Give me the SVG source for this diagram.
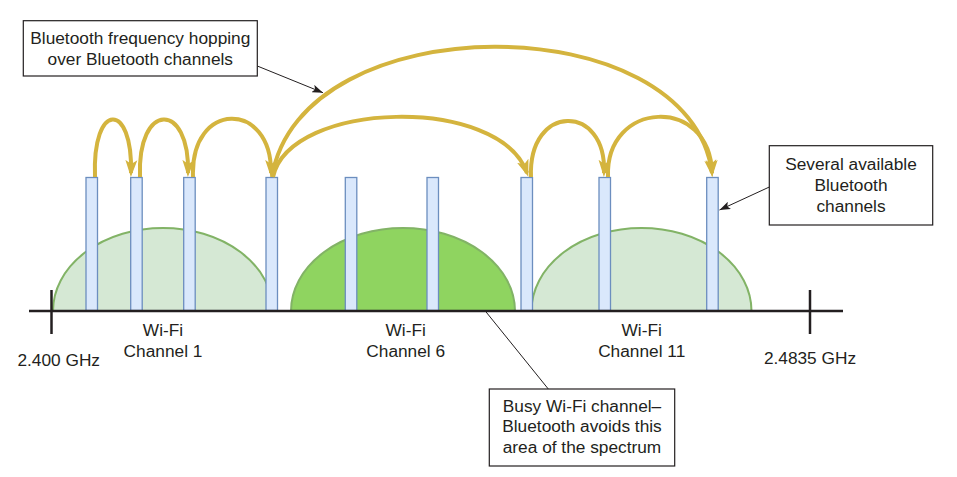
<svg xmlns="http://www.w3.org/2000/svg" width="957" height="477" viewBox="0 0 957 477">
<style>
text{font-family:"Liberation Sans",Arial,sans-serif;font-size:17.3px;fill:#231f20;text-anchor:middle}
.lite{fill:#d5e8d4;stroke:#82b366;stroke-width:2}
.busy{fill:#8fd460;stroke:#82b366;stroke-width:2}
.bar{fill:#dae8fc;stroke:#6c8ebf;stroke-width:1.3}
.hop{fill:none;stroke:#d4b43e;stroke-width:4;marker-end:url(#gold)}
.axis{stroke:#231f20;stroke-width:2.5;fill:none}
.box{fill:#fff;stroke:#231f20;stroke-width:1.2}
.lead{stroke:#231f20;stroke-width:1;fill:none}
</style>
<defs>
<marker id="gold" markerUnits="userSpaceOnUse" markerWidth="18" markerHeight="14" viewBox="0 0 18 14" refX="13" refY="7" orient="auto">
<path d="M0,1 L17,7 L0,13 L4,7 Z" fill="#d4b43e"/>
</marker>
<marker id="blk" markerUnits="userSpaceOnUse" markerWidth="12" markerHeight="8" viewBox="0 0 12 8" refX="11" refY="4" orient="auto">
<path d="M0,0 L11,4 L0,8 L2.5,4 Z" fill="#231f20"/>
</marker>
</defs>
<g id="wifi-ch1"><path class="lite" d="M53,311 A110,83 0 0 1 273,311 Z"/></g>
<g id="wifi-ch6"><path class="busy" d="M291,311 A112,83 0 0 1 515,311 Z"/></g>
<g id="wifi-ch11"><path class="lite" d="M531.5,311 A110,83 0 0 1 751.5,311 Z"/></g>
<g id="bt-channels">
<rect class="bar" x="86" y="177.5" width="11.5" height="133"/>
<rect class="bar" x="130.7" y="177.5" width="11.5" height="133"/>
<rect class="bar" x="183.7" y="177.5" width="11.5" height="133"/>
<rect class="bar" x="266" y="177.5" width="11.5" height="133"/>
<rect class="bar" x="345.3" y="177.5" width="11.5" height="133"/>
<rect class="bar" x="427" y="177.5" width="11.5" height="133"/>
<rect class="bar" x="521" y="177.5" width="11.5" height="133"/>
<rect class="bar" x="599" y="177.5" width="11.5" height="133"/>
<rect class="bar" x="706.7" y="177.5" width="11.5" height="133"/>
</g>
<g id="axis">
<line class="axis" x1="29" y1="311" x2="843" y2="311"/>
<line class="axis" x1="51.5" y1="290" x2="51.5" y2="334" stroke-width="2"/>
<line class="axis" x1="810" y1="290" x2="810" y2="334" stroke-width="2"/>
</g>
<g id="connectors">
<path class="hop" d="M95,177 C92,101 133,101 131,173"/>
<path class="hop" d="M140,177 C137,101 190,101 188,173"/>
<path class="hop" d="M193,177 C190,100 272,100 271,173"/>
<path class="hop" d="M272,177 C300,4 690,4 712,173"/>
<path class="hop" d="M273,177 C290,100 500,95 527,173"/>
<path class="hop" d="M531,177 C528,103 607,103 604,173"/>
<path class="hop" d="M608,177 C605,100 710,95 712,173"/>
<line class="lead" x1="257.3" y1="66" x2="323" y2="92.7" marker-end="url(#blk)"/>
<line class="lead" x1="770" y1="186.7" x2="719.5" y2="210" marker-end="url(#blk)"/>
<line class="lead" x1="485.7" y1="311.5" x2="548.3" y2="389"/>
</g>
<g id="label-hopping">
<rect class="box" x="23.3" y="20.7" width="234" height="55.3"/>
<text x="140.3" y="44.3">Bluetooth frequency hopping</text>
<text x="140.3" y="65">over Bluetooth channels</text>
</g>
<g id="label-available">
<rect class="box" x="769.3" y="145.7" width="163.4" height="79.3"/>
<text x="851" y="170">Several available</text>
<text x="851" y="191">Bluetooth</text>
<text x="851" y="211.7">channels</text>
</g>
<g id="label-busy">
<rect class="box" x="489.3" y="389" width="185.4" height="77"/>
<text x="582" y="411.7">Busy Wi-Fi channel–</text>
<text x="582" y="432.3">Bluetooth avoids this</text>
<text x="582" y="453.3">area of the spectrum</text>
</g>
<g id="axis-labels">
<text x="163" y="336">Wi-Fi</text>
<text x="163" y="356.5">Channel 1</text>
<text x="405.7" y="336">Wi-Fi</text>
<text x="405.7" y="356.5">Channel 6</text>
<text x="641.7" y="336">Wi-Fi</text>
<text x="641.7" y="356.5">Channel 11</text>
<text x="58.7" y="365.5">2.400 GHz</text>
<text x="810" y="363.5">2.4835 GHz</text>
</g>
</svg>
